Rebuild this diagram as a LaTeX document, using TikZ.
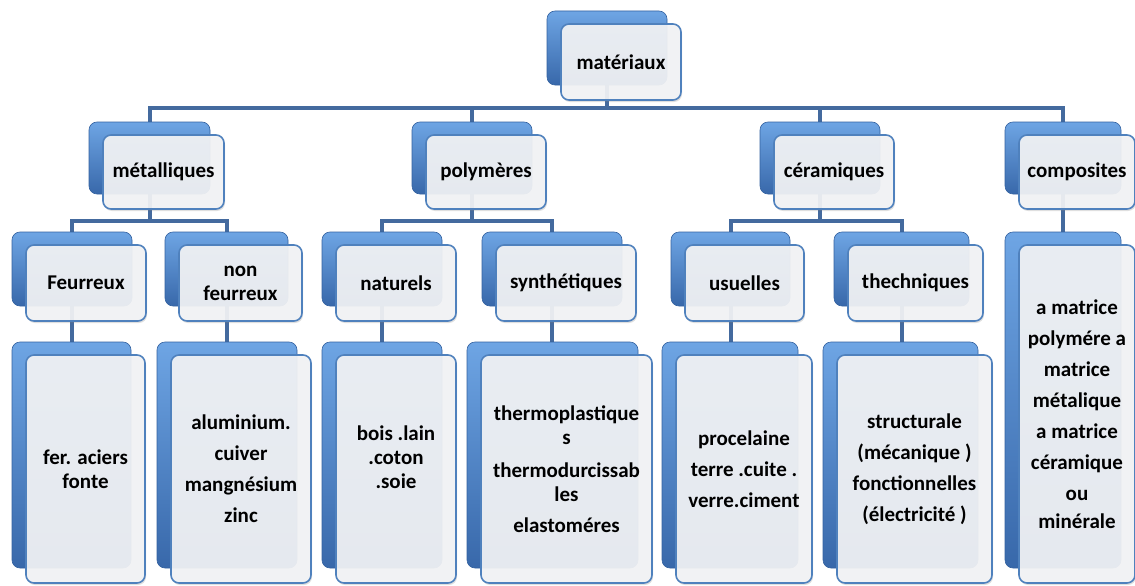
\documentclass[tikz,border=0pt]{standalone}
\usepackage{fontspec}
\setmainfont{Carlito}
\usetikzlibrary{shadows}
\definecolor{boxblue}{RGB}{79,129,189}
\definecolor{backtop}{RGB}{110,165,228}
\definecolor{backmid}{RGB}{78,130,196}
\definecolor{backbot}{RGB}{56,104,170}
\definecolor{backedge}{RGB}{52,98,160}
\definecolor{frontfill}{RGB}{243,244,246}
\definecolor{connblue}{RGB}{68,106,158}
\pgfdeclarelayer{bg}
\pgfsetlayers{bg,main}
\tikzset{
  backbox/.style={rounded corners=8pt, top color=backtop, middle color=backmid, bottom color=backbot,
    draw=backedge, line width=0.6pt, inner sep=0pt, outer sep=0pt},
  frontbox/.style={rounded corners=8pt, draw=boxblue, line width=1.6pt, fill=frontfill,
    fill opacity=0.92, text opacity=1, align=center, inner sep=2pt, outer sep=0pt,
    font=\bfseries\fontsize{21}{24}\selectfont,
    drop shadow={shadow xshift=1pt, shadow yshift=-2pt, opacity=0.25}},
  conn/.style={draw=connblue, line width=4pt}
}
% #1 name, #2 back-box left x, #3 back-box top y (pixels down), #4 width, #5 height, #6 text
\newcommand\elem[6]{%
  \node[backbox, minimum width=#4pt, minimum height=#5pt, anchor=north west] (#1b) at (#2,-#3) {};
  \node[frontbox, minimum width=#4pt, minimum height=#5pt+2pt, anchor=north west] (#1) at (#2+14,-#3-13) {#6};
}
\begin{document}
\begin{tikzpicture}[x=1pt,y=1pt]
\useasboundingbox (0,0) rectangle (1135,-586);

% level 0
\elem{mat}{547}{11}{120}{74}{matériaux}
% level 1
\elem{met}{89}{122}{121}{72}{métalliques}
\elem{pol}{412}{122}{120}{72}{polymères}
\elem{cer}{760}{122}{120}{72}{céramiques}
\elem{com}{1005}{122}{116}{72}{composites}
% level 2
\elem{feu}{12}{232}{120}{74}{Feurreux}
\elem{nfe}{165}{232}{123}{74}{non\\feurreux}
\elem{nat}{322}{232}{120}{74}{naturels}
\elem{syn}{482}{232}{140}{74}{synthétiques}
\elem{usu}{671}{232}{119}{74}{usuelles}
\elem{tec}{834}{232}{135}{74}{thechniques}
\elem{cmp}{1005}{232}{116}{336}{a matrice\\[7pt]polymére a\\[7pt]matrice\\[7pt]métalique\\[7pt]a matrice\\[7pt]céramique\\[7pt]ou\\[4pt]minérale}
% level 3
\elem{fer}{12}{342}{119}{226}{fer. aciers\\fonte}
\elem{alu}{157}{342}{140}{226}{aluminium.\\[7pt]cuiver\\[7pt]mangnésium\\[7pt]zinc}
\elem{boi}{322}{342}{120}{226}{bois .lain\\.coton\\.soie\\\mbox{}}
\elem{the}{467}{342}{171}{226}{thermoplastique\\s\\[9pt]thermodurcissab\\les\\[7pt]elastoméres}
\elem{pro}{662}{342}{136}{226}{procelaine\\[7pt]terre .cuite .\\[7pt]verre.ciment}
\elem{str}{823}{342}{155}{226}{structurale\\[7pt](mécanique )\\[7pt]fonctionnelles\\[7pt](électricité )}

\begin{pgfonlayer}{bg}
  \fill[white] (0,0) rectangle (1135,-586);
  % level 0 -> 1
  \foreach \c in {met,pol,cer,com}
    \draw[conn] (matb.south) -- (matb.south |- 0,-108) -| (\c b.north);
  % level 1 -> 2
  \foreach \c in {feu,nfe}
    \draw[conn] (metb.south) -- (metb.south |- 0,-221) -| (\c b.north);
  \foreach \c in {nat,syn}
    \draw[conn] (polb.south) -- (polb.south |- 0,-221) -| (\c b.north);
  \foreach \c in {usu,tec}
    \draw[conn] (cerb.south) -- (cerb.south |- 0,-221) -| (\c b.north);
  \draw[conn] (comb.south) -- (comb.south |- cmpb.north);
  % level 2 -> 3
  \draw[conn] (feub.south) -- (feub.south |- ferb.north);
  \draw[conn] (nfeb.south) -- (nfeb.south |- alub.north);
  \draw[conn] (natb.south) -- (natb.south |- boib.north);
  \draw[conn] (synb.south) -- (synb.south |- theb.north);
  \draw[conn] (usub.south) -- (usub.south |- prob.north);
  \draw[conn] (tecb.south) -- (tecb.south |- strb.north);
\end{pgfonlayer}
\end{tikzpicture}
\end{document}
